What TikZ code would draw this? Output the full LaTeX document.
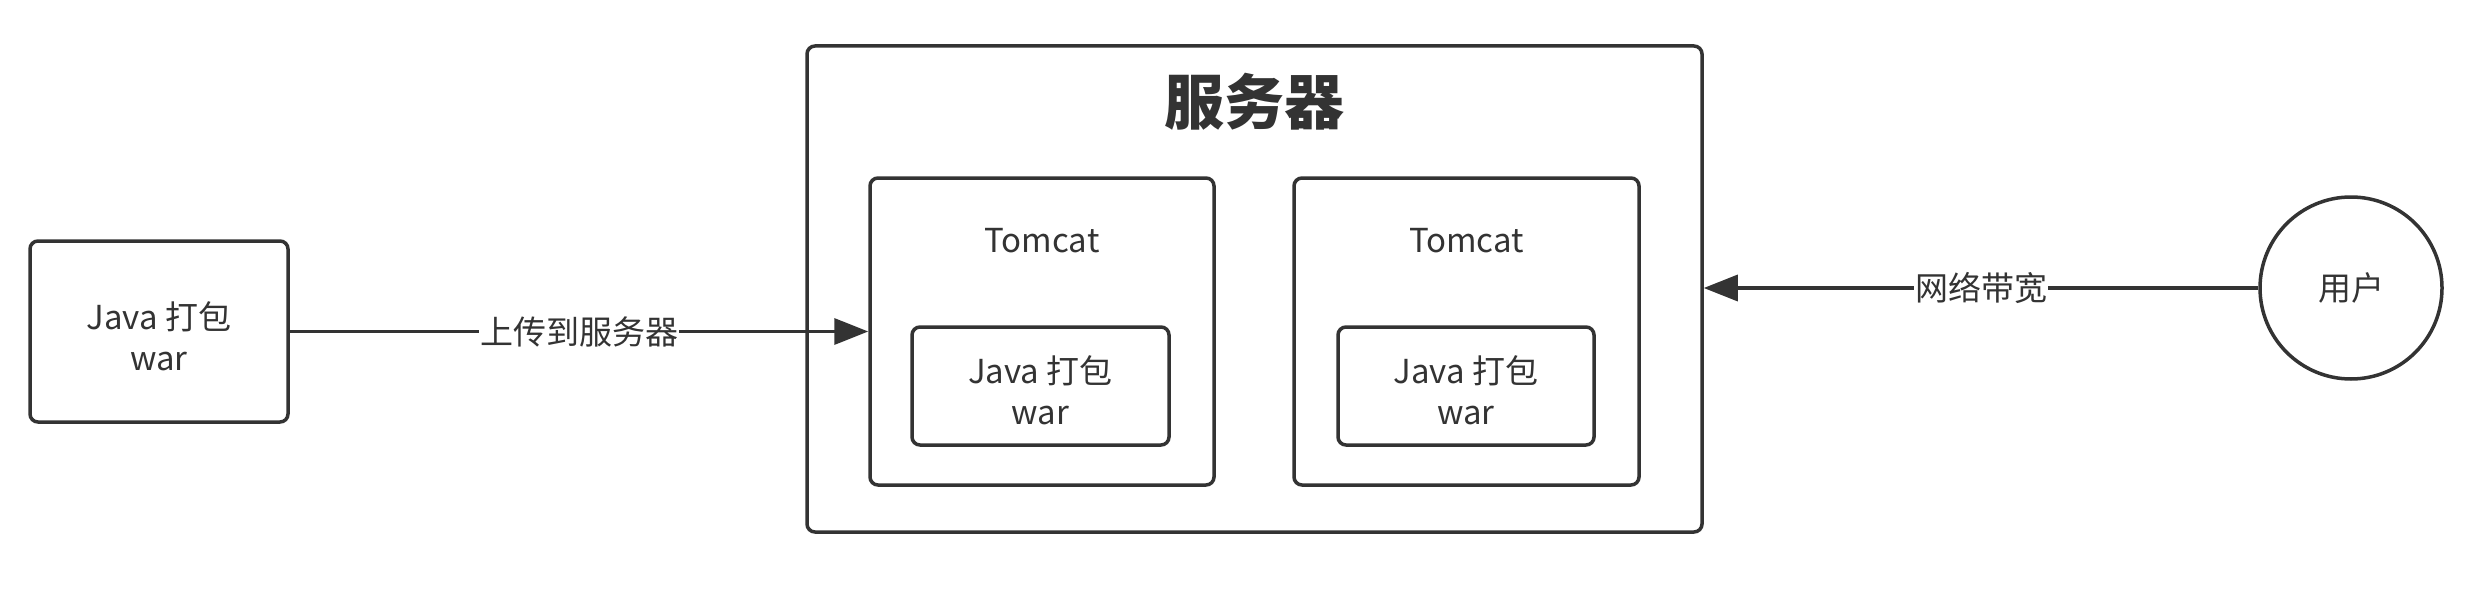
\documentclass[tikz,border=0pt]{standalone}
\usepackage{fontspec}
\setmainfont{Noto Sans CJK SC}
\usetikzlibrary{arrows.meta}
\definecolor{ln}{HTML}{333333}
\begin{document}
\begin{tikzpicture}[x=1pt,y=-1pt,
  box/.style={draw=ln, line width=3.5pt, rounded corners=8pt, inner sep=0pt},
  txt/.style={text=ln, font=\fontsize{33}{41}\selectfont, align=center},
  conn/.style={draw=ln, line width=3.5pt, -{Triangle[length=34pt,width=26pt]}},
  lbl/.style={txt, fill=white, inner sep=1pt}]
\useasboundingbox (0,0) rectangle (2467,615);
% boxes
\node[box, minimum width=258pt, minimum height=181pt] (src) at (159,331.5) {};
\node[txt] (srct) at (159,336) {Java 打包\\war};
\node[box, minimum width=895pt, minimum height=486pt] (server) at (1254.5,289) {};
\node[text=ln, font=\fontsize{60}{70}\selectfont\bfseries] (title) at (1254.5,102) {服务器};
\node[box, minimum width=344pt, minimum height=307pt] (tc1) at (1042,331.5) {};
\node[box, minimum width=345pt, minimum height=307pt] (tc2) at (1466.5,331.5) {};
\node[txt] (tc1t) at (1042,241) {Tomcat};
\node[txt] (tc2t) at (1466.5,241) {Tomcat};
\node[box, minimum width=257pt, minimum height=118pt] (w1) at (1040.5,386) {};
\node[box, minimum width=256pt, minimum height=118pt] (w2) at (1466,386) {};
\node[txt] (w1t) at (1040.5,390) {Java 打包\\war};
\node[txt] (w2t) at (1466,390) {Java 打包\\war};
\node[draw=ln, line width=3.5pt, circle, minimum size=182pt, inner sep=0pt, txt] (user) at (2351,288) {用户};
% connectors
\draw[conn] (src.east) -- node[lbl] {上传到服务器} (tc1.west);
\coordinate (sin) at (user.west -| server.east);
\draw[conn] (user.west) -- node[lbl] {网络带宽} (sin);
\end{tikzpicture}
\end{document}
